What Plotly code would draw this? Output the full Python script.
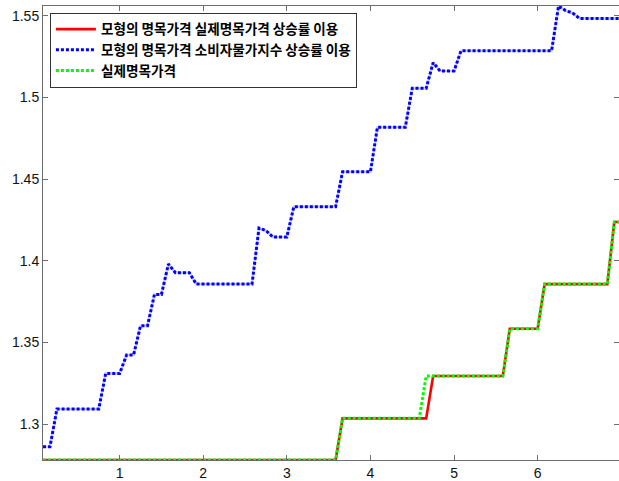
import plotly.graph_objects as go

# Monthly observations over seven years (x axis in years)
months = list(range(1, 85))
x_years = [m / 12 for m in months]

series_names = [
    "모형의 명목가격 실제명목가격 상승률 이용",
    "모형의 명목가격 소비자물가지수 상승률 이용",
    "실제명목가격",
]

# Model nominal price using the actual nominal price growth rate
model_actual = [
    1.2780, 1.2780, 1.2780, 1.2780, 1.2780, 1.2780, 1.2780, 1.2780, 1.2780, 1.2780, 1.2780, 1.2780,
    1.2780, 1.2780, 1.2780, 1.2780, 1.2780, 1.2780, 1.2780, 1.2780, 1.2780, 1.2780, 1.2780, 1.2780,
    1.2780, 1.2780, 1.2780, 1.2780, 1.2780, 1.2780, 1.2780, 1.2780, 1.2780, 1.2780, 1.2780, 1.2780,
    1.2780, 1.2780, 1.2780, 1.2780, 1.2780, 1.2780, 1.2780, 1.3035, 1.3035, 1.3035, 1.3035, 1.3035,
    1.3035, 1.3035, 1.3035, 1.3035, 1.3035, 1.3035, 1.3035, 1.3035, 1.3294, 1.3294, 1.3294, 1.3294,
    1.3294, 1.3294, 1.3294, 1.3294, 1.3294, 1.3294, 1.3294, 1.3584, 1.3584, 1.3584, 1.3584, 1.3584,
    1.3857, 1.3857, 1.3857, 1.3857, 1.3857, 1.3857, 1.3857, 1.3857, 1.3857, 1.3857, 1.4237, 1.4237,
]

# Model nominal price using the consumer price index growth rate
model_cpi = [
    1.2861, 1.2861, 1.3092, 1.3092, 1.3092, 1.3092, 1.3092, 1.3092, 1.3092, 1.3310, 1.3310, 1.3310,
    1.3423, 1.3423, 1.3602, 1.3602, 1.3794, 1.3794, 1.3980, 1.3927, 1.3927, 1.3927, 1.3857, 1.3857,
    1.3857, 1.3857, 1.3857, 1.3857, 1.3857, 1.3857, 1.3857, 1.4200, 1.4185, 1.4145, 1.4145, 1.4145,
    1.4331, 1.4331, 1.4331, 1.4331, 1.4331, 1.4331, 1.4331, 1.4545, 1.4545, 1.4545, 1.4545, 1.4545,
    1.4817, 1.4817, 1.4817, 1.4817, 1.4817, 1.5056, 1.5056, 1.5056, 1.5213, 1.5162, 1.5162, 1.5162,
    1.5286, 1.5286, 1.5286, 1.5286, 1.5286, 1.5286, 1.5286, 1.5286, 1.5286, 1.5286, 1.5286, 1.5286,
    1.5286, 1.5286, 1.5560, 1.5532, 1.5518, 1.5484, 1.5484, 1.5484, 1.5484, 1.5484, 1.5484, 1.5484,
]

# Actual nominal price
actual_price = [
    1.2780, 1.2780, 1.2780, 1.2780, 1.2780, 1.2780, 1.2780, 1.2780, 1.2780, 1.2780, 1.2780, 1.2780,
    1.2780, 1.2780, 1.2780, 1.2780, 1.2780, 1.2780, 1.2780, 1.2780, 1.2780, 1.2780, 1.2780, 1.2780,
    1.2780, 1.2780, 1.2780, 1.2780, 1.2780, 1.2780, 1.2780, 1.2780, 1.2780, 1.2780, 1.2780, 1.2780,
    1.2780, 1.2780, 1.2780, 1.2780, 1.2780, 1.2780, 1.2780, 1.3035, 1.3035, 1.3035, 1.3035, 1.3035,
    1.3035, 1.3035, 1.3035, 1.3035, 1.3035, 1.3035, 1.3035, 1.3294, 1.3294, 1.3294, 1.3294, 1.3294,
    1.3294, 1.3294, 1.3294, 1.3294, 1.3294, 1.3294, 1.3294, 1.3584, 1.3584, 1.3584, 1.3584, 1.3584,
    1.3857, 1.3857, 1.3857, 1.3857, 1.3857, 1.3857, 1.3857, 1.3857, 1.3857, 1.3857, 1.4237, 1.4237,
]

x_ticks = [1, 2, 3, 4, 5, 6, 7]
y_ticks = [1.30, 1.35, 1.40, 1.45, 1.50, 1.55]
y_tick_text = ["1.3", "1.35", "1.4", "1.45", "1.5", "1.55"]

fig = go.Figure()
fig.add_trace(go.Scatter(
    x=x_years, y=model_actual, name=series_names[0], mode="lines",
    line=dict(color="#ff0000", width=2.6),
))
# pale backing so the gaps of the dotted blue line read as light blue
fig.add_trace(go.Scatter(
    x=x_years, y=model_cpi, mode="lines", showlegend=False, hoverinfo="skip",
    line=dict(color="#c4c4ff", width=2.2),
))
fig.add_trace(go.Scatter(
    x=x_years, y=model_cpi, name=series_names[1], mode="lines",
    line=dict(color="#0000ff", width=3, dash="3px,2px"),
))
fig.add_trace(go.Scatter(
    x=x_years, y=actual_price, name=series_names[2], mode="lines",
    line=dict(color="#00ff00", width=3, dash="3px,2px"),
))

y_lo = min(min(model_actual), min(actual_price))
y_hi = max(model_cpi)

axis_common = dict(
    showline=True, linecolor="#6e6e6e", linewidth=1, mirror="ticks",
    ticks="inside", ticklen=5, tickcolor="#6e6e6e", tickwidth=1,
    showgrid=False, zeroline=False,
    tickfont=dict(family="Liberation Sans, Arial, sans-serif", size=14, color="#111"),
)

fig.update_layout(
    width=619, height=481, autosize=False,
    margin=dict(l=43, r=0, t=6, b=21),
    paper_bgcolor="white", plot_bgcolor="white",
    xaxis=dict(range=[1 / 12, 6.973], tickvals=x_ticks, **axis_common),
    yaxis=dict(range=[y_lo, y_hi], tickvals=y_ticks, ticktext=y_tick_text, **axis_common),
    legend=dict(
        x=0.012, y=0.985, xanchor="left", yanchor="top",
        bgcolor="white", bordercolor="#333", borderwidth=1,
        font=dict(family="Noto Sans CJK KR", size=13.6, color="black", weight="bold"),
        itemwidth=40, tracegroupgap=0,
    ),
    showlegend=True,
)

fig.write_html("out.html")
